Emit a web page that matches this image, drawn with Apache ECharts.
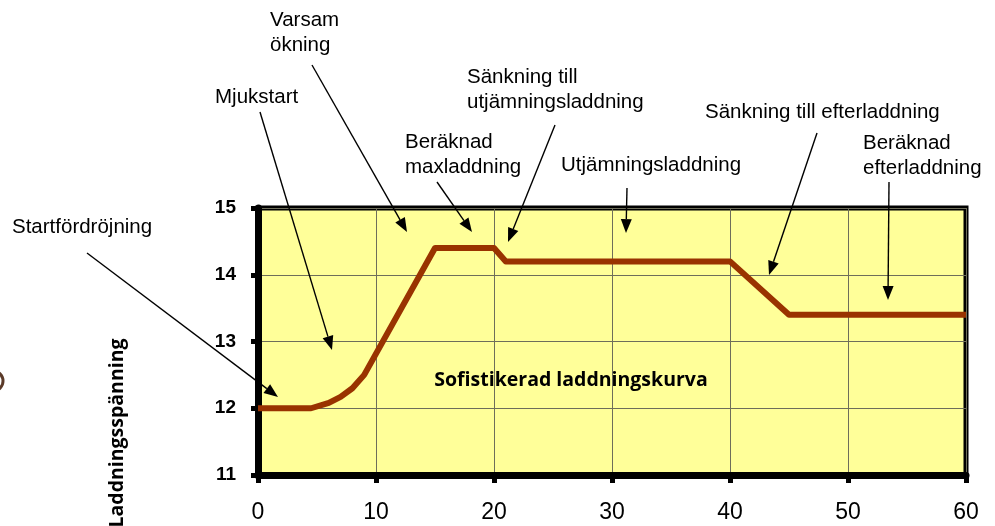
<!DOCTYPE html>
<html>
<head>
<meta charset="utf-8">
<script src="https://cdn.jsdelivr.net/npm/echarts@6/dist/echarts.min.js"></script>
<style>
  html, body { margin: 0; padding: 0; background: #fff; }
  #chart { width: 995px; height: 526px; }
</style>
</head>
<body>
<div id="chart"></div>
<script>
// laddningskurva: tid (x) och spänning (y)
const times = [0, 4.5, 6, 7, 8, 9, 15, 20, 21, 40, 45, 60];
const voltages = [12, 12, 12.08, 12.17, 12.3, 12.5, 14.4, 14.4, 14.2, 14.2, 13.4, 13.4];

const yAxisTitle = "Laddningsspänning";
const curveTitle = "Sofistikerad laddningskurva";
const annotationTexts = [
  "Startfördröjning",
  "Mjukstart",
  "Varsam\nökning",
  "Beräknad\nmaxladdning",
  "Sänkning till\nutjämningsladdning",
  "Utjämningsladdning",
  "Sänkning till efterladdning",
  "Beräknad\nefterladdning",
];

// layout of the annotations (pixels): text left/middle, arrow start, arrow tip
const labelPos = [[12, 227], [215, 97], [270, 33], [405, 155], [467, 90], [561, 165], [705, 112], [863, 156]];
const arrowFrom = [[87, 253], [260, 112], [312, 65], [437, 182], [555, 125], [627, 188], [817, 133], [889, 182]];
const arrowTo = [[278, 397], [332, 350], [407, 232], [472, 232], [508, 242], [626, 233], [769, 275], [888, 300]];

const chart = echarts.init(document.getElementById("chart"));

const arrowGraphics = [];
arrowFrom.forEach((from, i) => {
  const to = arrowTo[i];
  const dx = to[0] - from[0];
  const dy = to[1] - from[1];
  const len = Math.sqrt(dx * dx + dy * dy);
  const ux = dx / len, uy = dy / len;
  const headLen = 14, headHalf = 5.5;
  const bx = to[0] - ux * headLen, by = to[1] - uy * headLen;
  arrowGraphics.push({
    type: "line",
    shape: { x1: from[0], y1: from[1], x2: bx, y2: by },
    style: { stroke: "#000", lineWidth: 1.4 },
    z: 10,
  });
  arrowGraphics.push({
    type: "polygon",
    shape: {
      points: [
        [to[0], to[1]],
        [bx - uy * headHalf, by + ux * headHalf],
        [bx + uy * headHalf, by - ux * headHalf],
      ],
    },
    style: { fill: "#000" },
    z: 10,
  });
});

const textGraphics = annotationTexts.map((t, i) => ({
  type: "text",
  x: labelPos[i][0],
  y: labelPos[i][1],
  style: {
    text: t,
    fill: "#000",
    font: '20.5px "Liberation Sans", Arial, sans-serif',
    lineHeight: 25,
    align: "left",
    verticalAlign: "middle",
  },
  z: 10,
}));

const option = {
  animation: false,
  grid: {
    left: 258,
    right: 29,
    top: 208,
    bottom: 51,
    show: true,
    backgroundColor: "#FFFF99",
    borderColor: "#000",
    borderWidth: 5,
  },
  xAxis: {
    type: "value",
    min: 0,
    max: 60,
    interval: 10,
    axisLine: { show: true, onZero: false, lineStyle: { color: "#000", width: 7 } },
    axisTick: { show: true, length: 8, lineStyle: { color: "#000", width: 5 } },
    axisLabel: {
      margin: 26,
      color: "#000",
      fontSize: 23,
      fontFamily: '"Liberation Sans", Arial, sans-serif',
    },
    splitLine: { show: true, lineStyle: { color: "#6e6e5a", width: 1 } },
  },
  yAxis: {
    type: "value",
    min: 11,
    max: 15,
    interval: 1,
    axisLine: { show: true, onZero: false, lineStyle: { color: "#000", width: 7 } },
    axisTick: { show: true, length: 7, lineStyle: { color: "#000", width: 5 } },
    axisLabel: {
      margin: 22,
      color: "#000",
      fontSize: 19,
      fontWeight: "bold",
      fontFamily: '"Liberation Sans", Arial, sans-serif',
    },
    splitLine: { show: true, lineStyle: { color: "#6e6e5a", width: 1 } },
  },
  series: [
    {
      type: "line",
      data: times.map((t, i) => [t, voltages[i]]),
      showSymbol: false,
      symbol: "none",
      lineStyle: { color: "#993300", width: 6, join: "round", cap: "butt" },
      z: 5,
    },
  ],
  graphic: [
    {
      type: "text",
      x: 571,
      y: 380,
      style: {
        text: curveTitle,
        fill: "#000",
        font: 'bold 19.5px "Open Sans", Lato, sans-serif',
        align: "center",
        verticalAlign: "middle",
      },
      z: 10,
    },
    {
      type: "text",
      x: 117.5,
      y: 433,
      rotation: Math.PI / 2,
      style: {
        text: yAxisTitle,
        fill: "#000",
        font: 'bold 19.5px "Open Sans", Lato, sans-serif',
        align: "center",
        verticalAlign: "middle",
      },
      z: 10,
    },
    {
      type: "arc",
      shape: { cx: -7, cy: 381, r: 10, startAngle: -Math.PI / 2, endAngle: Math.PI / 2 },
      style: { stroke: "#5b3a29", lineWidth: 3, fill: null },
    },
  ].concat(textGraphics, arrowGraphics),
};

chart.setOption(option);
window.addEventListener("resize", chart.resize);
</script>
</body>
</html>
